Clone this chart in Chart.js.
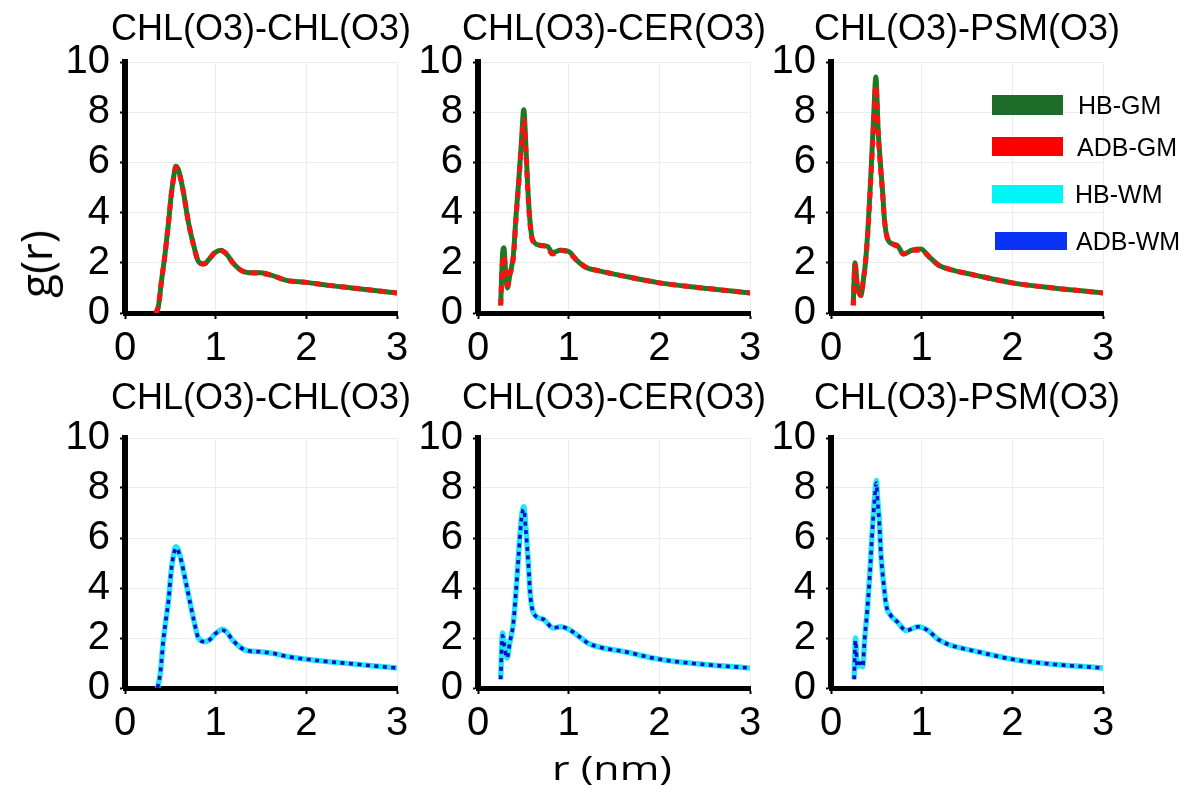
<!DOCTYPE html>
<html>
<head>
<meta charset="utf-8">
<script src="https://cdn.jsdelivr.net/npm/chart.js@4.4.1/dist/chart.umd.min.js"></script>
<style>
  html, body { margin:0; padding:0; background:#fff; }
  body { width:1188px; height:801px; position:relative; overflow:hidden; font-family:"Liberation Sans", Arial, sans-serif; }
  .panel { position:absolute; }
  .txt { position:absolute; white-space:nowrap; line-height:1; color:#000; }
  .sw { position:absolute; }
</style>
</head>
<body>
<script>
// ---------- data ----------
const titles = ['CHL(O3)-CHL(O3)', 'CHL(O3)-CER(O3)', 'CHL(O3)-PSM(O3)'];
const xTicks = [0, 1, 2, 3];
const yTicks = [0, 2, 4, 6, 8, 10];

// top row: GM
const r1 = [0.34, 0.37, 0.40, 0.44, 0.48, 0.51, 0.54, 0.56, 0.59, 0.64, 0.70, 0.76, 0.81, 0.87, 0.93, 0.99, 1.06, 1.12, 1.19, 1.30, 1.40, 1.50, 1.62, 1.78, 2.00, 2.25, 2.50, 2.75, 3.00];
const gHBGM1 = [0, 0.3, 1.2, 2.3, 3.6, 4.7, 5.5, 5.85, 5.7, 4.9, 3.6, 2.65, 2.05, 1.95, 2.15, 2.4, 2.5, 2.35, 2.0, 1.66, 1.6, 1.6, 1.5, 1.3, 1.22, 1.1, 1.0, 0.9, 0.8];
const gADBGM1 = [0, 0.3, 1.2, 2.3, 3.6, 4.7, 5.45, 5.8, 5.65, 4.9, 3.6, 2.65, 2.05, 1.95, 2.15, 2.4, 2.48, 2.35, 2.0, 1.66, 1.6, 1.58, 1.5, 1.3, 1.22, 1.1, 1.0, 0.9, 0.8];

const r2 = [0.25, 0.27, 0.285, 0.31, 0.325, 0.35, 0.39, 0.42, 0.45, 0.48, 0.505, 0.53, 0.555, 0.575, 0.60, 0.68, 0.77, 0.82, 0.91, 1.00, 1.09, 1.20, 1.31, 1.57, 2.00, 2.47, 3.00];
const gHBGM2 = [0.3, 2.3, 2.6, 1.3, 1.0, 1.5, 2.3, 3.9, 5.3, 6.9, 8.1, 6.5, 4.6, 3.6, 2.95, 2.7, 2.65, 2.4, 2.5, 2.45, 2.1, 1.8, 1.7, 1.5, 1.2, 1.0, 0.8];
const gADBGM2 = [0.3, 2.0, 2.3, 1.5, 1.1, 1.5, 2.2, 3.8, 5.2, 6.7, 7.7, 6.3, 4.5, 3.5, 2.9, 2.7, 2.6, 2.35, 2.5, 2.4, 2.1, 1.8, 1.7, 1.5, 1.2, 1.0, 0.8];

const r3 = [0.245, 0.265, 0.29, 0.31, 0.33, 0.36, 0.38, 0.41, 0.44, 0.47, 0.495, 0.52, 0.54, 0.57, 0.59, 0.62, 0.68, 0.73, 0.80, 0.89, 0.99, 1.08, 1.19, 1.30, 1.60, 2.00, 2.45, 3.00];
const gHBGM3 = [0.3, 2.0, 1.1, 0.8, 0.7, 1.4, 2.0, 3.5, 5.5, 7.8, 9.4, 7.3, 6.2, 4.8, 3.7, 3.0, 2.75, 2.7, 2.35, 2.5, 2.55, 2.25, 1.9, 1.75, 1.5, 1.2, 1.0, 0.8];
const gADBGM3 = [0.3, 1.9, 1.0, 0.8, 0.7, 1.4, 2.0, 3.4, 5.4, 7.5, 9.05, 7.2, 6.1, 4.7, 3.7, 3.0, 2.75, 2.65, 2.35, 2.5, 2.5, 2.25, 1.9, 1.75, 1.5, 1.2, 1.0, 0.8];

// bottom row: WM
const r4 = [0.36, 0.39, 0.42, 0.45, 0.48, 0.51, 0.54, 0.56, 0.59, 0.62, 0.69, 0.76, 0.81, 0.88, 0.94, 0.99, 1.08, 1.13, 1.19, 1.34, 1.49, 1.64, 1.80, 2.00, 2.25, 2.50, 2.75, 3.00];
const gHBWM4 = [0, 0.6, 1.8, 2.7, 3.5, 4.7, 5.4, 5.65, 5.5, 5.1, 3.9, 2.7, 2.0, 1.85, 1.95, 2.15, 2.35, 2.2, 1.9, 1.5, 1.45, 1.38, 1.25, 1.15, 1.05, 0.97, 0.88, 0.8];
const gADBWM4 = [0, 0.6, 1.8, 2.7, 3.5, 4.7, 5.4, 5.6, 5.45, 5.1, 3.9, 2.7, 2.0, 1.85, 1.95, 2.15, 2.3, 2.2, 1.9, 1.5, 1.45, 1.38, 1.25, 1.15, 1.05, 0.97, 0.88, 0.8];

const r5 = [0.25, 0.27, 0.29, 0.32, 0.35, 0.39, 0.42, 0.45, 0.48, 0.505, 0.53, 0.555, 0.58, 0.63, 0.72, 0.83, 0.91, 1.00, 1.10, 1.21, 1.32, 1.62, 2.00, 2.47, 3.00];
const gHBWM5 = [0.35, 2.2, 1.8, 1.2, 1.8, 2.6, 3.9, 5.5, 6.85, 7.25, 6.3, 5.0, 3.6, 2.9, 2.75, 2.4, 2.45, 2.35, 2.1, 1.8, 1.65, 1.45, 1.15, 0.95, 0.8];
const gADBWM5 = [0.35, 2.1, 1.7, 1.2, 1.8, 2.6, 3.9, 5.4, 6.8, 7.15, 6.2, 5.0, 3.6, 2.9, 2.75, 2.4, 2.45, 2.35, 2.1, 1.8, 1.65, 1.45, 1.15, 0.95, 0.8];

const r6 = [0.255, 0.27, 0.29, 0.32, 0.35, 0.37, 0.40, 0.43, 0.45, 0.48, 0.50, 0.515, 0.535, 0.55, 0.58, 0.61, 0.66, 0.73, 0.83, 0.96, 1.07, 1.18, 1.29, 1.62, 2.00, 2.45, 3.00];
const gHBWM6 = [0.35, 2.0, 0.85, 1.0, 0.85, 1.9, 3.1, 4.7, 6.0, 7.6, 8.3, 7.5, 6.6, 5.4, 4.2, 3.3, 2.9, 2.65, 2.3, 2.45, 2.3, 1.95, 1.75, 1.45, 1.15, 0.95, 0.8];
const gADBWM6 = [0.35, 1.9, 0.85, 1.0, 0.85, 1.9, 3.1, 4.6, 5.9, 7.5, 8.2, 7.4, 6.5, 5.4, 4.2, 3.3, 2.9, 2.65, 2.3, 2.45, 2.3, 1.95, 1.75, 1.45, 1.15, 0.95, 0.8];

const seriesNames = ['HB-GM', 'ADB-GM', 'HB-WM', 'ADB-WM'];
const seriesColors = ['#1d7a24', '#ff1010', '#22e8f2', '#0a0ad0'];
const legendColors = ['#1e6b2a', '#ff0000', '#00f5f5', '#0a32f5'];

// ---------- layout ----------
const FONT = '"Liberation Sans", Arial, sans-serif';
const colAxis = [125, 478, 831];   // x of each y-axis
const plotW = 272;
const YW = 65, RP = 20, XH = 60, TOPH = 62;
const rows = [
  { top: 0,   plotH: 251, titleTop: 9.9 },
  { top: 376, plotH: 250, titleTop: 379.4 }
];
const panels = [
  { row:0, col:0, r:r1, hb:gHBGM1, adb:gADBGM1, kind:0 },
  { row:0, col:1, r:r2, hb:gHBGM2, adb:gADBGM2, kind:0 },
  { row:0, col:2, r:r3, hb:gHBGM3, adb:gADBGM3, kind:0 },
  { row:1, col:0, r:r4, hb:gHBWM4, adb:gADBWM4, kind:1 },
  { row:1, col:1, r:r5, hb:gHBWM5, adb:gADBWM5, kind:1 },
  { row:1, col:2, r:r6, hb:gHBWM6, adb:gADBWM6, kind:1 }
];

const pts = (r, g) => r.map((x, i) => ({ x: x, y: g[i] }));

panels.forEach(p => {
  const row = rows[p.row];
  const div = document.createElement('div');
  div.className = 'panel';
  div.style.left = (colAxis[p.col] - YW) + 'px';
  div.style.top = row.top + 'px';
  div.style.width = (YW + plotW + RP) + 'px';
  div.style.height = (TOPH + row.plotH + XH) + 'px';
  const cv = document.createElement('canvas');
  div.appendChild(cv);
  document.body.appendChild(div);

  // panel title
  const t = document.createElement('div');
  t.className = 'txt';
  t.textContent = titles[p.col];
  t.style.fontFamily = FONT;
  t.style.fontSize = '36px';
  t.style.left = (colAxis[p.col] + plotW / 2) + 'px';
  t.style.top = row.titleTop + 'px';
  t.style.transform = 'translateX(-50%)';
  document.body.appendChild(t);

  const hbIdx = p.kind === 0 ? 0 : 2;
  const adbIdx = hbIdx + 1;
  const dsTop = {
    label: seriesNames[adbIdx], data: pts(p.r, p.adb),
    borderColor: seriesColors[adbIdx],
    borderWidth: p.kind === 0 ? 5 : 3.6,
    borderDash: p.kind === 0 ? [7, 6] : [4, 4.5],
    pointRadius: 0, fill: false, cubicInterpolationMode: 'monotone'
  };
  const dsBase = {
    label: seriesNames[hbIdx], data: pts(p.r, p.hb),
    borderColor: seriesColors[hbIdx],
    borderWidth: p.kind === 0 ? 5 : 5.5,
    pointRadius: 0, fill: false, cubicInterpolationMode: 'monotone'
  };

  new Chart(cv, {
    type: 'line',
    data: { datasets: [dsTop, dsBase] },
    options: {
      responsive: true, maintainAspectRatio: false, animation: false,
      layout: { padding: { left: 0, right: RP, top: TOPH, bottom: 0 } },
      plugins: {
        legend: { display: false },
        tooltip: { enabled: false },
        title: { display: false }
      },
      scales: {
        x: {
          type: 'linear', min: 0, max: 3,
          afterBuildTicks: s => { s.ticks = xTicks.map(v => ({ value: v })); },
          ticks: { color: '#000', font: { family: FONT, size: 40 }, padding: 6, maxRotation: 0, autoSkip: false },
          grid: { color: '#ececec', lineWidth: 1, tickColor: '#000', tickLength: 6, tickWidth: 2 },
          border: { color: '#000', width: 5 },
          afterFit: s => { s.height = XH; }
        },
        y: {
          min: 0, max: 10,
          afterBuildTicks: s => { s.ticks = yTicks.map(v => ({ value: v })); },
          ticks: { color: '#000', font: { family: FONT, size: 40 }, padding: 10, autoSkip: false },
          grid: { color: '#ececec', lineWidth: 1, tickColor: '#000', tickLength: 5, tickWidth: 2 },
          border: { color: '#000', width: 6 },
          afterFit: s => { s.width = YW; }
        }
      }
    }
  });
});

// x-axis title
const xt = document.createElement('div');
xt.className = 'txt';
xt.textContent = 'r (nm)';
xt.style.fontFamily = '"Open Sans", sans-serif';
xt.style.fontSize = '33px';
xt.style.left = '612px';
xt.style.top = '751px';
xt.style.transform = 'translateX(-50%) scaleX(1.3)';
document.body.appendChild(xt);

// y-axis title
const yt = document.createElement('div');
yt.className = 'txt';
yt.textContent = 'g(r)';
yt.style.fontFamily = '"Open Sans", sans-serif';
yt.style.fontSize = '44px';
yt.style.left = '35px';
yt.style.top = '264px';
yt.style.transform = 'translate(-50%,-50%) rotate(-90deg)';
document.body.appendChild(yt);

// legend
const legRows = [
  { sx: 992, sy: 95,  sw: 71, sh: 20, tx: 1078, ty: 105 },
  { sx: 992, sy: 137, sw: 71, sh: 19, tx: 1077, ty: 147 },
  { sx: 992, sy: 185, sw: 71, sh: 18, tx: 1075, ty: 194 },
  { sx: 995, sy: 232, sw: 72, sh: 18, tx: 1076, ty: 241 }
];
legRows.forEach((L, i) => {
  const s = document.createElement('div');
  s.className = 'sw';
  s.style.left = L.sx + 'px'; s.style.top = L.sy + 'px';
  s.style.width = L.sw + 'px'; s.style.height = L.sh + 'px';
  s.style.background = legendColors[i];
  document.body.appendChild(s);
  const t = document.createElement('div');
  t.className = 'txt';
  t.textContent = seriesNames[i];
  t.style.fontFamily = FONT;
  t.style.fontSize = '25px';
  t.style.left = L.tx + 'px';
  t.style.top = (L.ty - 12.2) + 'px';
  document.body.appendChild(t);
});
</script>
</body>
</html>
